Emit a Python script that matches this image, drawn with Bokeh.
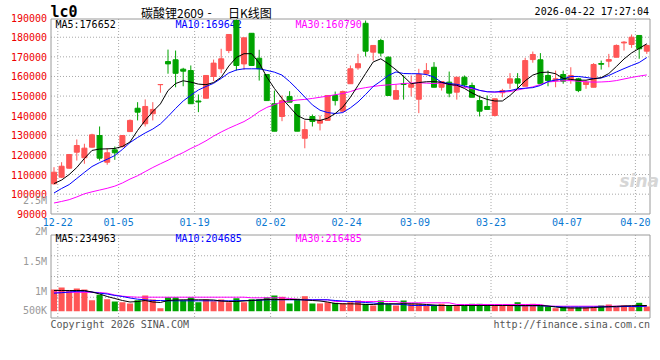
from bokeh.plotting import figure
from bokeh.models import Range1d
from bokeh.embed import file_html
from bokeh.resources import INLINE
from bokeh.core.properties import value

# ---------------- data ----------------
tick_labels = ["12-22", "01-05", "01-19", "02-02", "02-24", "03-09", "03-23", "04-07", "04-20"]
tick_index = [0, 8, 18, 28, 38, 47, 57, 67, 76]

opens = [105300, 108650, 113250, 121400, 118550, 123950, 129900, 116300, 122600, 124300,
         131900, 143800, 135900, 141000, 155800, 167600, 168500, 163700, 163000, 147500,
         148900, 160000, 163900,
         173200, 188500, 166400, 182000, 169300, 161000, 146100, 139600, 149800, 145700,
         128500, 139600, 136200, 137600, 150300, 142300, 156300, 164400, 187100, 172400,
         178300, 169800, 148400, 156400, 154500, 148400, 161400, 164700, 154500,
         157100, 152000, 159600, 155400, 147700, 144700, 140100, 151700, 156600, 158800,
         155000, 168600, 168500, 160500, 157900, 161000, 158400, 158800, 155900, 154500,
         166600, 167800, 169800, 177100, 176300, 180900, 172900]
highs = [113750, 116300, 120500, 127900, 125700, 130800, 134500, 123450, 124300, 130150,
         138100, 146900, 148300, 146900, 155900, 173700, 173200, 164400, 165600, 150800,
         160500, 168600, 174100,
         181400, 189000, 179700, 182000, 173600, 161000, 152800, 150300, 152500, 145700,
         137600, 140600, 140100, 150300, 152300, 152800, 165600, 171500, 188500, 175800,
         179200, 170200, 155900, 160500, 160500, 163900, 166800, 167300, 157400,
         162500, 159600, 160500, 156900, 150300, 150300, 148600, 153700, 161700, 161700,
         169500, 172700, 171900, 163000, 163000, 163000, 164700, 159300, 157900, 166800,
         168100, 171500, 176300, 178000, 181400, 180900, 176300]
lows = [104900, 108250, 113000, 117150, 115500, 123800, 117150, 115000, 117500, 123800,
        131700, 137600, 134500, 137600, 151700, 161400, 154500, 155000, 146000, 141800,
        148900, 157600, 161700,
        171900, 163000, 163400, 165600, 157900, 147700, 132100, 137200, 146900, 132100,
        123400, 134500, 132500, 137600, 145200, 141800, 156300, 163400, 170200, 168100,
        170200, 150300, 148400, 148200, 149800, 141300, 160500, 154500, 152800,
        149400, 148200, 154500, 149400, 139600, 143200, 139600, 149400, 153700, 153700,
        155000, 167000, 156300, 155000, 154500, 156300, 156300, 152000, 153700, 154500,
        163500, 164700, 169800, 173200, 174600, 169000, 171500]
closes = [111200, 114250, 120200, 124800, 123450, 130250, 118350, 121100, 121100, 129900,
          137600, 141800, 144700, 143200, 155900, 166400, 161600, 162700, 146100, 147000,
          160500, 166800, 169000,
          181400, 165600, 179700, 165600, 163900, 147700, 132100, 147700, 146900, 132100,
          132900, 137100, 137600, 150300, 147700, 152300, 163900, 166500, 172900, 175800,
          171900, 150300, 152800, 155900, 155900, 161000, 163000, 154500, 157400,
          151500, 159600, 155700, 149400, 142300, 143200, 148600, 152800, 158800, 156600,
          168100, 171200, 156300, 157900, 158800, 157600, 160500, 152800, 157100, 166100,
          166200, 168600, 175800, 177500, 180000, 174100, 175800]

ma5 = [105400, 107200, 110000, 113600, 118200, 122300, 123000, 123100, 123300, 124300,
       126600, 132500, 137600, 142100, 146000, 152800, 156400, 157800, 157100, 156100,
       155800, 156900, 159600, 165300, 169700, 171600, 171600, 166900, 159700, 153900,
       148800, 144500, 140100, 138200, 138000, 137600, 138700, 141100, 144400, 149400,
       155400, 161500, 167400, 169000, 166400, 163400, 160000, 156300, 156900, 157300,
       157400, 157000, 155900, 155500, 153900, 151600, 149700, 148300, 147500, 147500,
       150300, 153900, 157800, 160700, 162000, 162200, 161400, 159000, 158500, 158100,
       158100, 158800, 159400, 161500, 165100, 168900, 172000, 174300, 176650]
ma10 = [100600, 102900, 104900, 108000, 111100, 114100, 116100, 117800, 119700, 122800,
        126300, 128900, 131200, 133200, 135800, 139600, 143700, 147500, 150400, 153100,
        154900, 156500, 159000, 161800, 163300, 163900, 163900, 163900, 163100, 162200,
        160700, 157400, 153600, 149500, 145500, 142800, 141600, 141100, 141600, 144000,
        147000, 150800, 154900, 157600, 160500, 162300, 161500, 161400, 161400, 161000,
        159700, 157000, 156400, 156000, 155100, 154300, 152900, 152200, 152100, 152400,
        152800, 153700, 154000, 154300, 155400, 157400, 158200, 158700, 160000, 160000,
        159500, 158900, 159200, 160500, 162300, 164000, 165600, 167100, 169640]
ma30 = [95500, 96300, 97200, 98600, 100200, 101200, 102100, 103000, 104100, 105700,
        107700, 109400, 111500, 113600, 115500, 117300, 119400, 121200, 123300, 125100,
        127200, 129600, 131700, 133600, 135300, 137000, 139300, 142100, 144200, 145700,
        147000, 147500, 148000, 148300, 148800, 149400, 150000, 150700, 151300, 152300,
        153600, 154300, 154900, 155400, 155700, 156000, 156400, 156600, 156800, 156600,
        156400, 156700, 155900, 155200, 154500, 153800, 152900, 152200, 152000, 152100,
        152300, 153100, 153900, 154700, 155900, 157200, 157500, 157800, 157900, 157600,
        157300, 157100, 157200, 157400, 157900, 158700, 159500, 160200, 160790]

volumes = [890000, 972000, 849000, 931000, 890000, 451000, 672000, 492000, 398000, 369000,
           316000, 451000, 644000, 480000, 123000, 574000, 574000, 451000, 574000, 369000,
           480000, 410000, 480000, 369000, 533000, 369000, 492000, 492000, 562000, 644000,
           590000, 316000, 508000, 615000, 316000, 316000, 369000, 344000, 328000, 369000,
           439000, 303000, 234000, 439000, 303000, 234000, 439000, 303000, 303000, 234000,
           234000, 303000, 234000, 234000, 234000, 303000, 303000, 275000, 234000, 234000,
           234000, 369000, 234000, 303000, 234000, 193000, 123000, 193000, 164000, 164000,
           164000, 193000, 234000, 275000, 193000, 234000, 193000, 344000, 193000]
vma5 = [849000, 849000, 849000, 849000, 849000, 787000, 705000, 603000, 521000, 439000,
        377000, 398000, 439000, 377000, 357000, 439000, 459000, 467000, 467000, 467000,
        467000, 459000, 418000, 398000, 398000, 418000, 439000, 459000, 480000, 480000,
        480000, 480000, 480000, 459000, 439000, 418000, 377000, 316000, 303000, 303000,
        295000, 275000, 275000, 295000, 303000, 303000, 303000, 303000, 295000, 275000,
        254000, 234000, 234000, 234000, 234000, 234000, 234000, 234000, 234000, 234000,
        234000, 234000, 234000, 234000, 234000, 213000, 172000, 140000, 130000, 130000,
        130000, 150000, 170000, 185000, 200000, 215000, 225000, 230000, 234963]
vma10 = [738000, 758000, 787000, 816000, 820000, 787000, 738000, 705000, 644000, 603000,
         541000, 492000, 467000, 439000, 439000, 426000, 426000, 426000, 426000, 426000,
         426000, 426000, 426000, 426000, 426000, 439000, 439000, 451000, 467000, 467000,
         467000, 467000, 467000, 467000, 467000, 467000, 467000, 439000, 418000, 398000,
         377000, 357000, 336000, 303000, 295000, 287000, 275000, 234000, 234000, 234000,
         234000, 234000, 234000, 234000, 234000, 234000, 234000, 234000, 234000, 234000,
         234000, 221000, 221000, 221000, 221000, 205000, 193000, 172000, 172000, 172000,
         172000, 172000, 180000, 180000, 180000, 193000, 193000, 193000, 204685]
vma30 = [779000, 775000, 775000, 775000, 775000, 775000, 767000, 738000, 664000, 615000,
         590000, 574000, 574000, 574000, 574000, 574000, 574000, 574000, 574000, 574000,
         574000, 574000, 574000, 574000, 574000, 574000, 549000, 549000, 549000, 549000,
         549000, 521000, 492000, 467000, 467000, 467000, 467000, 398000, 398000, 398000,
         398000, 398000, 398000, 398000, 398000, 398000, 344000, 344000, 344000, 344000,
         344000, 344000, 344000, 275000, 275000, 275000, 275000, 275000, 275000, 275000,
         275000, 275000, 275000, 275000, 275000, 205000, 205000, 205000, 205000, 205000,
         205000, 205000, 205000, 205000, 205000, 205000, 205000, 205000, 216485]

price_ticks = [90000, 100000, 110000, 120000, 130000, 140000, 150000, 160000, 170000, 180000, 190000]
vol_tick_labels = ["2.5M", "2M", "1.5M", "1M", "500K"]

# ---------------- layout (reference pixel geometry) ----------------
W, H, OFF = 660, 360, 0
CX0, CDX = 53.5, 7.6               # first candle centre, candle pitch (px)
PY90, PX10K = 213.3, 19.62         # y of 90000, px per 10000
VBASE, VPERPX = 310.7, 41000.0     # volume baseline y, volume per px
L, R = 50.5, 649.5
MT, MB = 18.5, 213.5
VT, VB = 234.5, 317.5
vol_label_y = [200, 231, 261, 290.5, 310]

def idx_at(X):
    return (X - CX0) / CDX

def price_at(Y):
    return 90000 + (PY90 - Y) / PX10K * 10000

def vol_at(Y):
    return (VBASE - Y) * VPERPX

RED, GREEN = "#ff5555", "#00a300"
GRID = "#a8a8a8"
FRAME = "#9a9a9a"
MONO = value("DejaVu Sans Mono")

n = len(closes)
idx = list(range(n))
up = [c >= o for o, c in zip(opens, closes)]
colors = [RED if u else GREEN for u in up]
body_top = [max(o, c) for o, c in zip(opens, closes)]
body_bot = [min(o, c) for o, c in zip(opens, closes)]

p = figure(width=W, height=H, output_backend="svg", toolbar_location=None,
           x_range=Range1d(idx_at(OFF), idx_at(OFF + W)),
           y_range=Range1d(price_at(OFF + H), price_at(OFF)),
           x_axis_location=None, y_axis_location=None, min_border=0)
p.extra_x_ranges = {"px": Range1d(OFF, OFF + W)}
p.extra_y_ranges = {"py": Range1d(start=OFF + H, end=OFF),
                    "vol": Range1d(vol_at(OFF + H), vol_at(OFF))}
p.outline_line_color = None
p.grid.visible = False
p.background_fill_color = "white"
p.border_fill_color = "white"

# grid lines
gt = [t for t in price_ticks if price_at(MT) > t > 90000]
p.segment(x0=L, x1=R, y0=gt, y1=gt, x_range_name="px",
          line_color=GRID, line_width=1, line_dash="1 2")
gx = [t + 0.5 for t in tick_index]
p.segment(x0=gx, x1=gx, y0=MT, y1=MB, y_range_name="py",
          line_color=GRID, line_width=1, line_dash="1 2")
p.segment(x0=gx, x1=gx, y0=VT, y1=VB, y_range_name="py",
          line_color=GRID, line_width=1, line_dash="1 2")
vq = [VT + k * (VB - VT) / 4 for k in (1, 2, 3)]
p.segment(x0=L, x1=R, y0=vq, y1=vq, x_range_name="px", y_range_name="py",
          line_color=GRID, line_width=1, line_dash="1 2")

# frames
p.quad(left=[L, L], right=[R, R], top=[MT, VT], bottom=[MB, VB],
       x_range_name="px", y_range_name="py",
       fill_color=None, line_color=FRAME, line_width=1)

# header texts
p.text(x=[50], y=[11.5], text=["lc0"], x_range_name="px", y_range_name="py",
       text_font=MONO, text_font_size="15px", text_font_style="bold",
       text_color="black", text_baseline="middle")
p.text(x=[140.5], y=[11.5], text=["碳酸锂2609"], x_range_name="px", y_range_name="py",
       text_font=value("Noto Sans CJK SC"), text_font_size="12px",
       text_color="black", text_baseline="middle")
p.text(x=[207], y=[11.5], text=["-"], x_range_name="px", y_range_name="py",
       text_font=value("Noto Sans CJK SC"), text_font_size="12px",
       text_color="black", text_baseline="middle")
p.text(x=[227.5], y=[11.5], text=["日K线图"], x_range_name="px", y_range_name="py",
       text_font=value("Noto Sans CJK SC"), text_font_size="12px",
       text_color="black", text_baseline="middle")
p.text(x=[648.5], y=[11], text=["2026-04-22 17:27:04"], x_range_name="px", y_range_name="py",
       text_font=MONO, text_font_size="10px", text_color="black",
       text_align="right", text_baseline="middle")

ma_cols = ["black", "#0000ff", "#ff00ff"]
hx = [55, 175, 295]
p.text(x=hx, y=[23.7] * 3, text=["MA5:176652", "MA10:169642", "MA30:160790"],
       x_range_name="px", y_range_name="py", text_font=MONO, text_font_size="10px",
       text_color=ma_cols, text_baseline="middle")
p.text(x=hx, y=[238] * 3, text=["MA5:234963", "MA10:204685", "MA30:216485"],
       x_range_name="px", y_range_name="py", text_font=MONO, text_font_size="10px",
       text_color=ma_cols, text_baseline="middle")

# watermark
p.text(x=[619], y=[180], text=["sina"], x_range_name="px", y_range_name="py",
       text_font=value("DejaVu Sans"), text_font_size="17px", text_font_style="bold italic",
       text_color="#d6d6d6", text_baseline="middle")

# candles
p.segment(x0=idx, x1=idx, y0=lows, y1=highs, line_color=colors, line_width=1)
p.vbar(x=idx, width=0.66, top=body_top, bottom=body_bot,
       fill_color=colors, line_color=colors, line_width=1)

# moving averages (price)
p.line(idx, ma30, line_color="#ff00ff", line_width=1)
p.line(idx, ma10, line_color="#0000ff", line_width=1)
p.line(idx, ma5, line_color="black", line_width=1)

# volume
p.vbar(x=idx, width=0.8, top=volumes, bottom=0, y_range_name="vol",
       fill_color=colors, line_color=None)
p.line(idx, vma30, y_range_name="vol", line_color="#ff00ff", line_width=1)
p.line(idx, vma10, y_range_name="vol", line_color="#0000ff", line_width=1)
p.line(idx, vma5, y_range_name="vol", line_color="black", line_width=1)

# axis labels
p.text(x=[46.5] * len(price_ticks), y=price_ticks, text=[str(t) for t in price_ticks],
       x_range_name="px", text_font=MONO, text_font_size="10px",
       text_color="#ee0000", text_align="right", text_baseline="middle")
p.text(x=[46.5] * len(vol_tick_labels), y=vol_label_y, text=vol_tick_labels,
       x_range_name="px", y_range_name="py", text_font=MONO, text_font_size="10px",
       text_color="#999999", text_align="right", text_baseline="middle")
p.text(x=gx, y=[221.3] * len(gx), text=tick_labels, y_range_name="py",
       text_font=MONO, text_font_size="10px", text_color="#0a78d2",
       text_align="center", text_baseline="middle")

# footer
p.text(x=[50], y=[324], text=["Copyright 2026 SINA.COM"], x_range_name="px", y_range_name="py",
       text_font=MONO, text_font_size="10px", text_color="#555555", text_baseline="middle")
p.text(x=[649.5], y=[324], text=["http://finance.sina.com.cn"], x_range_name="px",
       y_range_name="py", text_font=MONO, text_font_size="10px", text_color="#555555",
       text_align="right", text_baseline="middle")

open("out.html", "w").write(file_html(p, INLINE))
